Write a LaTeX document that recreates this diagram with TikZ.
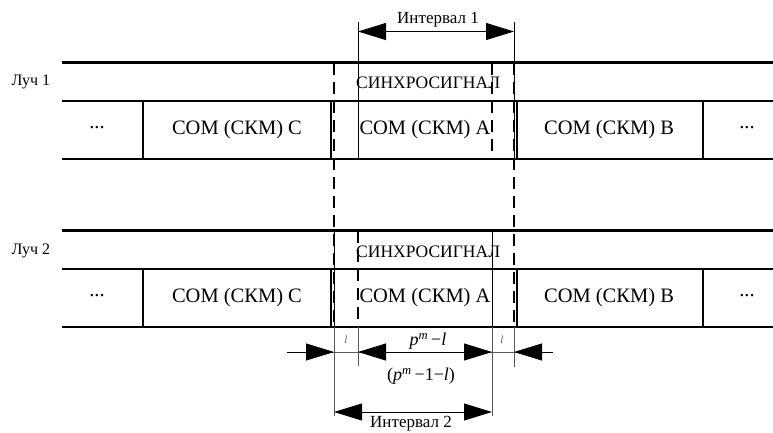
\documentclass[tikz,border=0pt]{standalone}
\usepackage{fontspec}
\setmainfont{Liberation Serif}
\usetikzlibrary{arrows.meta}
\begin{document}
\begin{tikzpicture}[x=1pt,y=-1pt,
  thickln/.style={line width=2.8pt},
  sepln/.style={line width=1.8pt},
  thinln/.style={line width=0.9pt},
  greyln/.style={line width=0.9pt, draw=black!65},
  dashln/.style={line width=1.4pt, dash pattern=on 12pt off 7pt},
  tipr/.style={-{Triangle[length=28pt,width=17pt]}},
  tiplr/.style={{Triangle[length=28pt,width=17pt]}-{Triangle[length=28pt,width=17pt]}},
  lbl/.style={inner sep=0pt, font=\fontsize{16}{18}\selectfont},
  boxtxt/.style={inner sep=0pt, font=\fontsize{20.5}{24}\selectfont},
  synctxt/.style={inner sep=0pt, anchor=west, font=\fontsize{17.5}{20}\selectfont},
  inttxt/.style={inner sep=0pt, font=\fontsize{17}{20}\selectfont},
  smalll/.style={inner sep=0pt, text=black!60, font=\fontsize{11}{12}\selectfont\itshape},
  dimtxt/.style={inner sep=0pt, font=\fontsize{18}{20}\selectfont}]
\useasboundingbox (0,0) rectangle (773,432);

% ---------- Ray 1 ----------
\node[lbl] (r1) at (31,82) {Луч 1};
\draw[thickln] (62,62.5) -- (773,62.5);
\draw[thickln] (62,101) -- (773,101);
\draw[thickln] (62,159) -- (773,159);
\draw[sepln] (143,101) -- (143,159);
\draw[sepln] (703,101) -- (703,159);
\draw[thickln] (331,101) -- (331,159);
\draw[thickln] (517,101) -- (517,159);
\node[boxtxt] (d1a) at (97,128) {...};
\node[boxtxt] (c1) at (237,130) {СОМ (СКМ) С};
\node[boxtxt] (a1) at (425,130) {СОМ (СКМ) А};
\node[boxtxt] (b1) at (609,130) {СОМ (СКМ) В};
\node[boxtxt] (d1b) at (747,128) {...};
\node[synctxt] (s1) at (356,83) {СИНХРОСИГНАЛ};
\draw[dashln] (492,62.5) -- (492,159);
\draw[thinln] (358,22) -- (358,159);
\draw[thinln] (514,22) -- (514,159);

% Interval 1
\coordinate (i1l) at (358,31.5);
\coordinate (i1r) at (514,31.5);
\draw[thinln, tiplr] (i1l) -- (i1r);
\node[inttxt] (i1) at (438,20) {Интервал 1};

% long dashed lines
\draw[dashln] (334,62.5) -- (334,327);
\draw[dashln] (514,62.5) -- (514,327);

% ---------- Ray 2 ----------
\node[lbl] (r2) at (31,251) {Луч 2};
\draw[thickln] (62,230.5) -- (773,230.5);
\draw[thickln] (62,269) -- (773,269);
\draw[thickln] (62,327) -- (773,327);
\draw[sepln] (143,269) -- (143,327);
\draw[sepln] (703,269) -- (703,327);
\draw[thickln] (331,269) -- (331,327);
\draw[thickln] (517,269) -- (517,327);
\node[boxtxt] (d2a) at (97,296) {...};
\node[boxtxt] (c2) at (237,298) {СОМ (СКМ) С};
\node[boxtxt] (a2) at (425,298) {СОМ (СКМ) А};
\node[boxtxt] (b2) at (609,298) {СОМ (СКМ) В};
\node[boxtxt] (d2b) at (747,296) {...};
\node[synctxt] (s2) at (356,252) {СИНХРОСИГНАЛ};
\draw[dashln] (358,230.5) -- (358,327);
\draw[thinln] (334,230.5) -- (334,327);
\draw[thinln] (492,230.5) -- (492,327);

% ---------- dimensions below ----------
\draw[greyln] (334,327) -- (334,416);
\draw[greyln] (492,327) -- (492,416);
\draw[greyln] (358,327) -- (358,366);
\draw[greyln] (514,327) -- (514,367);

\coordinate (dl0) at (287,352);
\coordinate (dl1) at (334,352);
\coordinate (dl2) at (358,352);
\coordinate (dl3) at (492,352);
\coordinate (dl4) at (514,352);
\coordinate (dl5) at (553,352);
\draw[greyln] (dl0) -- (dl5);
\draw[thinln, tipr] (dl0) -- (dl1);
\draw[thinln, tiplr] (dl2) -- (dl3);
\draw[thinln, tipr] (dl5) -- (dl4);

\node[smalll] (l1) at (346,340) {l};
\node[smalll] (l2) at (502,340) {l};
\node[dimtxt] (pm) at (428,341) {\textit{p}\textsuperscript{\textit{m}}\,−\textit{l}};
\node[dimtxt] (pm2) at (421,376) {(\textit{p}\textsuperscript{\textit{m}}\,−1−\textit{l})};

% Interval 2
\coordinate (i2l) at (334,412);
\coordinate (i2r) at (492,412);
\draw[thinln, tiplr] (i2l) -- (i2r);
\node[inttxt] (i2) at (411,424) {Интервал 2};
\end{tikzpicture}
\end{document}
